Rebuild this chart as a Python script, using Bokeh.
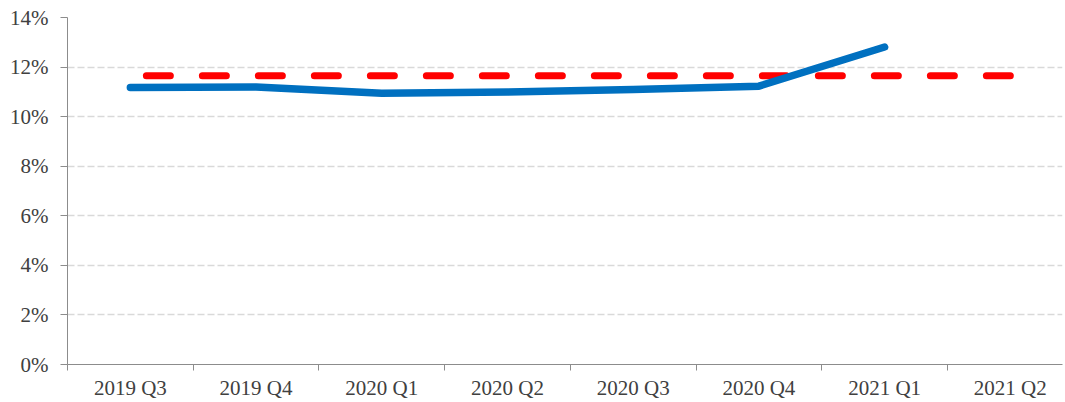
from bokeh.plotting import figure
from bokeh.models import Range1d, FixedTicker, PrintfTickFormatter
from bokeh.embed import file_html
from bokeh.resources import INLINE

categories = ["2019 Q3", "2019 Q4", "2020 Q1", "2020 Q2", "2020 Q3", "2020 Q4", "2021 Q1", "2021 Q2"]
actual = [11.18, 11.20, 10.94, 10.99, 11.10, 11.23, 12.81]
target = [11.65] * 8
y_ticks = [0, 2, 4, 6, 8, 10, 12, 14]

FONT = "Liberation Serif"

p = figure(width=1065, height=402, output_backend="svg", toolbar_location=None,
           x_range=Range1d(0, 7.915), y_range=Range1d(0, 14),
           min_border_left=67, min_border_right=3, min_border_top=17, min_border_bottom=37)
p.outline_line_color = None
p.background_fill_color = "white"

pos = [i + 0.5 for i in range(len(categories))]

p.line(pos[:len(target)], target, line_color="#FF0000", line_width=7, line_cap="round",
       line_dash="24 32", line_dash_offset=40)
p.line(pos[:len(actual)], actual, line_color="#0070C0", line_width=7.5, line_cap="round",
       line_join="round")

# x axis
p.xaxis.ticker = FixedTicker(ticks=pos, minor_ticks=list(range(len(categories) + 1)))
p.xaxis.major_label_overrides = {pv: c for pv, c in zip(pos, categories)}
p.xaxis.major_tick_out = 0
p.xaxis.major_tick_in = 0
p.xaxis.minor_tick_out = 6
p.xaxis.minor_tick_in = 0
p.xaxis.minor_tick_line_color = "#8c8c8c"
p.xaxis.axis_line_color = "#8c8c8c"
p.xaxis.major_label_text_font = FONT
p.xaxis.major_label_text_font_size = "21px"
p.xaxis.major_label_text_color = "#404040"
p.xaxis.major_label_standoff = 5

# y axis
p.yaxis.ticker = FixedTicker(ticks=y_ticks, minor_ticks=[])
p.yaxis.formatter = PrintfTickFormatter(format="%d%%")
p.yaxis.major_tick_out = 7
p.yaxis.major_tick_in = 0
p.yaxis.minor_tick_line_color = None
p.yaxis.major_tick_line_color = "#8c8c8c"
p.yaxis.axis_line_color = "#8c8c8c"
p.yaxis.major_label_text_font = FONT
p.yaxis.major_label_text_font_size = "21px"
p.yaxis.major_label_text_color = "#404040"
p.yaxis.major_label_standoff = 12

p.xgrid.visible = False
p.ygrid.ticker = FixedTicker(ticks=y_ticks)
p.ygrid.grid_line_color = "#d9d9d9"
p.ygrid.grid_line_dash = "7 3"
p.ygrid.grid_line_width = 1.5

open("out.html", "w").write(file_html(p, INLINE))
